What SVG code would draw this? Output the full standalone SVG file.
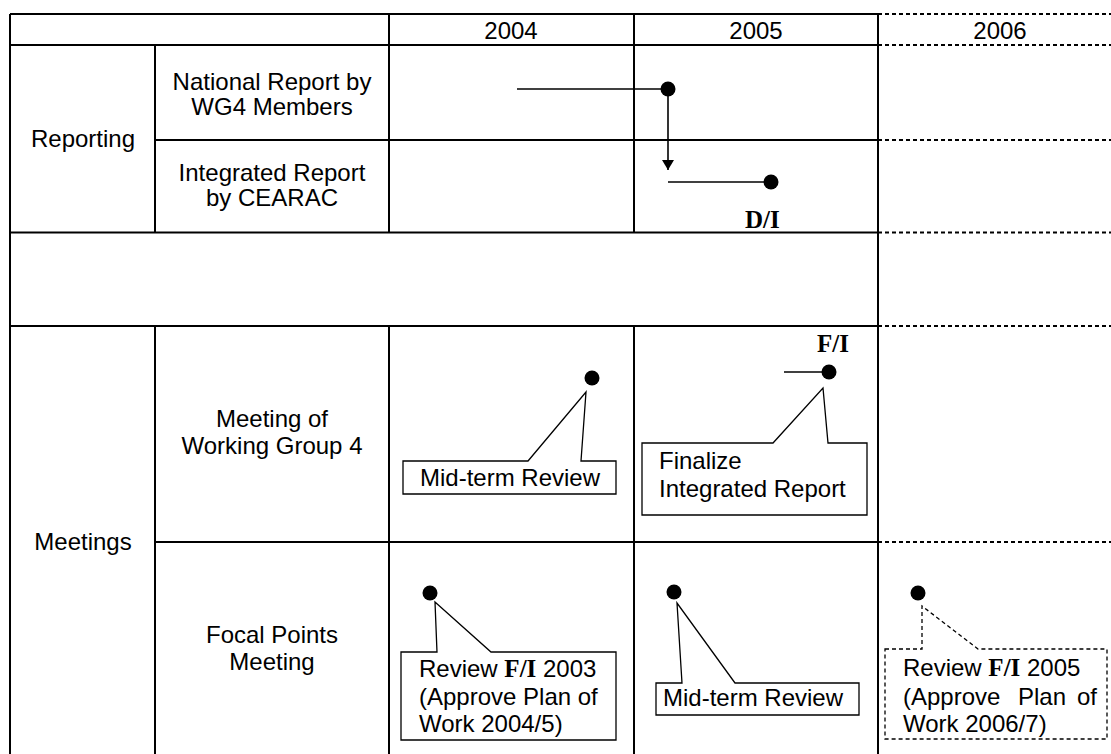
<svg xmlns="http://www.w3.org/2000/svg" width="1111" height="754" viewBox="0 0 1111 754">
<style>
.t{font-family:"Liberation Sans",Arial,sans-serif;font-size:24px;fill:#000}
.m{text-anchor:middle}
.b{font-family:"Liberation Serif","Times New Roman",serif;font-weight:bold;font-size:25px;fill:#000}
.g{stroke:#000;stroke-width:2;fill:none}
.d{stroke:#000;stroke-width:2;stroke-dasharray:4 3;fill:none}
.c{stroke:#000;stroke-width:1.3;fill:#fff;stroke-linejoin:miter}
.cd{stroke:#000;stroke-width:1.3;fill:#fff;stroke-dasharray:4 3}
.ln{stroke:#000;stroke-width:1.6;fill:none}
.dot{fill:#000}
</style>
<defs>
<marker id="arr" viewBox="0 0 10 12" refX="10" refY="6" markerWidth="10" markerHeight="12" markerUnits="userSpaceOnUse" orient="auto">
<path d="M0,0 L10,6 L0,12 z" fill="#000"/>
</marker>
</defs>
<rect width="1111" height="754" fill="#fff"/>
<g id="grid">
<path class="g" d="M10,14H878M10,45H878M155,140H878M10,232.5H878M10,326H878M155,542H878"/>
<path class="g" d="M10,14V754M155,45V232.5M155,326V754M389,14V232.5M389,326V754M634,14V232.5M634,326V754M878,14V754"/>
<path class="d" d="M878,14H1111M878,45H1111M878,140H1111M878,232.5H1111M878,326H1111M878,542H1111"/>
</g>
<g id="headers">
<text class="t m" x="511" y="39">2004</text>
<text class="t m" x="756" y="39">2005</text>
<text class="t m" x="1000" y="39">2006</text>
</g>
<g id="reporting"><text class="t m" x="83" y="147">Reporting</text></g>
<g id="national-report"><text class="t m" x="272" y="90">National Report by</text><text class="t m" x="272" y="115">WG4 Members</text></g>
<g id="integrated-report"><text class="t m" x="272" y="181">Integrated Report</text><text class="t m" x="272" y="206">by CEARAC</text></g>
<g id="meetings"><text class="t m" x="83" y="550">Meetings</text></g>
<g id="wg4-meeting"><text class="t m" x="272" y="427">Meeting of</text><text class="t m" x="272" y="454">Working Group 4</text></g>
<g id="focal-meeting"><text class="t m" x="272" y="643">Focal Points</text><text class="t m" x="272" y="670">Meeting</text></g>
<g id="connectors">
<line class="ln" x1="517" y1="89" x2="668" y2="89"/>
<line class="ln" x1="668" y1="89" x2="668" y2="170" marker-end="url(#arr)"/>
<line class="ln" x1="668" y1="182" x2="771" y2="182"/>
<line class="ln" x1="784" y1="372" x2="829" y2="372"/>
</g>
<g id="national-milestone"><circle class="dot" cx="668" cy="89" r="7.5"/></g>
<g id="integrated-milestone"><circle class="dot" cx="771" cy="182" r="7.5"/><text class="b" x="745" y="228">D/I</text></g>
<g id="wg4-2004">
<polygon class="c" points="403,461 528,461 586,392 581,461 616,461 616,494 403,494"/>
<circle class="dot" cx="592" cy="378" r="7.5"/>
<text class="t" x="420" y="486">Mid-term Review</text>
</g>
<g id="wg4-2005">
<polygon class="c" points="642,443 773,443 823,388 828,443 867,443 867,515 642,515"/>
<circle class="dot" cx="829" cy="372" r="7.5"/>
<text class="b" x="817" y="352">F/I</text>
<text class="t" x="659" y="469">Finalize</text>
<text class="t" x="659" y="497">Integrated Report</text>
</g>
<g id="focal-2004">
<polygon class="c" points="401,652 437,652 435,602 491,652 616,652 616,740 401,740"/>
<circle class="dot" cx="430" cy="593" r="7.5"/>
<text class="t" x="419" y="677">Review <tspan class="b">F/I</tspan> 2003</text>
<text class="t" x="419" y="705">(Approve Plan of</text>
<text class="t" x="419" y="732">Work 2004/5)</text>
</g>
<g id="focal-2005">
<polygon class="c" points="656,683 682,683 677,603 735,683 859,683 859,715 656,715"/>
<circle class="dot" cx="674" cy="592" r="7.5"/>
<text class="t" x="663" y="706">Mid-term Review</text>
</g>
<g id="focal-2006">
<polygon class="cd" points="885,649 922,649 922,606 978,649 1107,649 1107,739 885,739"/>
<circle class="dot" cx="918" cy="593" r="7.5"/>
<text class="t" x="903" y="676">Review <tspan class="b">F/I</tspan> 2005</text>
<text class="t" y="705"><tspan x="903">(Approve</tspan><tspan x="1018">Plan</tspan><tspan x="1077">of</tspan></text>
<text class="t" x="903" y="732">Work 2006/7)</text>
</g>
</svg>
